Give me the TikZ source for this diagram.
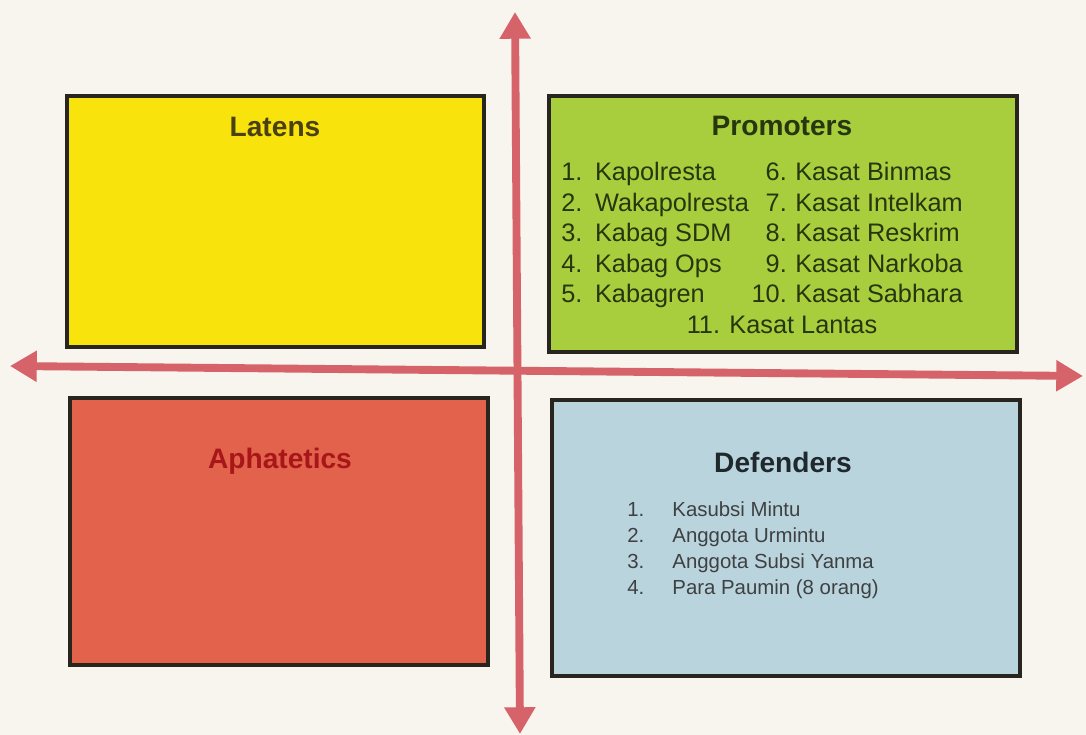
\documentclass[tikz,border=0pt]{standalone}
\usepackage{fontspec}
\setmainfont{Liberation Sans}
\usepackage{xcolor}
\usepackage{tikz}
\usetikzlibrary{shapes,arrows,arrows.meta,positioning}
\definecolor{paper}{RGB}{247,245,237}
\definecolor{latensyellow}{RGB}{248,228,12}
\definecolor{promgreen}{RGB}{168,206,62}
\definecolor{aphared}{RGB}{226,98,76}
\definecolor{defblue}{RGB}{186,212,222}
\definecolor{axisred}{RGB}{214,98,106}
\definecolor{quadline}{RGB}{40,36,30}
\definecolor{latenstext}{RGB}{74,64,18}
\definecolor{promtext}{RGB}{38,54,14}
\definecolor{aphatext}{RGB}{168,22,26}
\definecolor{deftext}{RGB}{30,40,45}
\definecolor{defitem}{RGB}{62,64,66}

\begin{document}
\begin{tikzpicture}[x=0.025cm,y=-0.025cm]
	\tikzset{quad/.style = {shape=rectangle,draw=quadline,line width=2.6pt,inner sep=0pt}}

	\tikzset{title/.style = {anchor=base,inner sep=0pt,font=\fontsize{20pt}{24pt}\selectfont\bfseries}}

	\tikzset{items/.style = {anchor=base west,inner sep=0pt}}

	\tikzset{axis/.style = {draw=axisred,line width=5.6pt,> = {Triangle[length=19pt,width=21pt]},<->}}

	\useasboundingbox (0,0) rectangle (1086,735);
	\fill[paper] (0,0) rectangle (1086,735);

	% quadrants
	\node[quad,fill=latensyellow,minimum width=10.425cm,minimum height=6.275cm] (latens) at (275.5,221.5) {};
	\node[quad,fill=promgreen,minimum width=11.7cm,minimum height=6.4cm] (promoters) at (783,224) {};
	\node[quad,fill=aphared,minimum width=10.45cm,minimum height=6.675cm] (aphatetics) at (279,531.5) {};
	\node[quad,fill=defblue,minimum width=11.7cm,minimum height=6.9cm] (defenders) at (786,538) {};

	% titles
	\node[title,text=latenstext] (latenstitle) at (275,137) {Latens};
	\node[title,text=promtext] (promtitle) at (782,136) {Promoters};
	\node[title,text=aphatext] (aphatitle) at (280,468) {Aphatetics};
	\node[title,text=deftext] (deftitle) at (783,472) {Defenders};

	% lists
	\node[items,text=promtext,font=\fontsize{18pt}{21.6pt}\selectfont] (promlist) at (561,181) {%
		\begin{tabular}[t]{@{}l@{\hspace{9pt}}l@{\hspace{2pt}}r@{\hspace{6pt}}l@{}}
			1. & Kapolresta & 6. & Kasat Binmas\\
			2. & Wakapolresta & 7. & Kasat Intelkam\\
			3. & Kabag SDM & 8. & Kasat Reskrim\\
			4. & Kabag Ops & 9. & Kasat Narkoba\\
			5. & Kabagren & 10. & Kasat Sabhara
		\end{tabular}};
	\node[anchor=base,inner sep=0pt,text=promtext,font=\fontsize{18pt}{21.6pt}\selectfont] (promlast) at (782,333) {11. Kasat Lantas};

	\node[items,text=defitem,font=\fontsize{14.5pt}{18.7pt}\selectfont] (deflist) at (627,516) {%
		\begin{tabular}[t]{@{}l@{\hspace{20pt}}l@{}}
			1. & Kasubsi Mintu\\
			2. & Anggota Urmintu\\
			3. & Anggota Subsi Yanma\\
			4. & Para Paumin (8 orang)
		\end{tabular}};

	% axes
	\coordinate (west) at (10,366);
	\coordinate (east) at (1083,376);
	\coordinate (north) at (515,12);
	\coordinate (south) at (520,734);
	\draw[axis] (west) -- (east);
	\draw[axis] (north) -- (south);
\end{tikzpicture}
\end{document}
